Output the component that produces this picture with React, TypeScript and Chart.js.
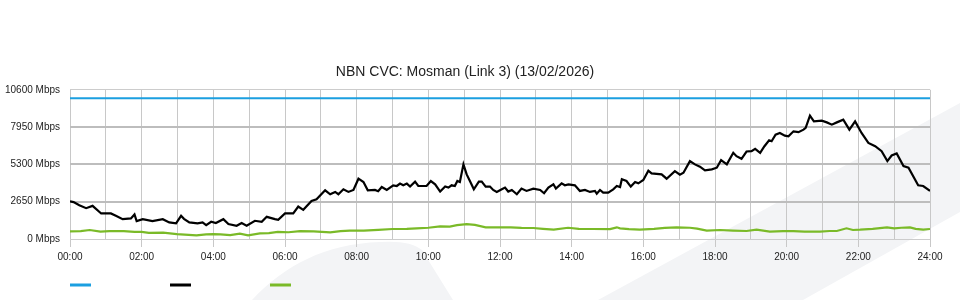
import { useEffect, useRef } from 'react';
import { Chart, registerables } from 'chart.js';

Chart.register(...registerables);

const TITLE = 'NBN CVC: Mosman (Link 3) (13/02/2026)';
const Y_TICKS = [0, 2650, 5300, 7950, 10600];
const X_LABEL_HOURS = [0, 2, 4, 6, 8, 10, 12, 14, 16, 18, 20, 22, 24];

// Capacity (blue)
const capacityHours = [0, 24];
const capacityMbps = [10000, 10000];

// Traffic in (black)
const inHours = [
  0, 0.1, 0.26, 0.45, 0.63, 0.87, 1.14, 1.28, 1.47, 1.7, 1.8, 1.86, 2.03, 2.3, 2.59, 2.77, 2.96, 3.1, 3.18,
  3.33, 3.56, 3.7, 3.8, 3.94, 4.07, 4.28, 4.42, 4.65, 4.79, 4.93, 5.16, 5.35, 5.49, 5.72, 5.81, 6.0, 6.23,
  6.37, 6.51, 6.74, 6.88, 7.12, 7.26, 7.4, 7.49, 7.63, 7.77, 7.91, 8.05, 8.19, 8.31, 8.51, 8.6, 8.7, 8.84,
  9.02, 9.12, 9.21, 9.3, 9.4, 9.49, 9.63, 9.72, 9.95, 10.07, 10.19, 10.33, 10.47, 10.56, 10.65, 10.74, 10.81,
  10.88, 10.98, 11.07, 11.16, 11.27, 11.41, 11.49, 11.6, 11.72, 11.81, 11.91, 12.05, 12.14, 12.23, 12.33,
  12.47, 12.6, 12.74, 12.93, 13.12, 13.23, 13.35, 13.49, 13.56, 13.72, 13.81, 13.91, 14.09, 14.23, 14.37,
  14.51, 14.65, 14.7, 14.79, 14.88, 15.02, 15.16, 15.26, 15.35, 15.4, 15.53, 15.65, 15.77, 15.86, 16.0,
  16.14, 16.23, 16.51, 16.65, 16.88, 17.02, 17.12, 17.3, 17.44, 17.58, 17.72, 17.91, 18.05, 18.17, 18.33,
  18.51, 18.6, 18.74, 18.88, 19.02, 19.12, 19.26, 19.38, 19.51, 19.58, 19.69, 19.81, 19.95, 20.05, 20.19,
  20.33, 20.47, 20.53, 20.65, 20.76, 20.98, 21.12, 21.26, 21.4, 21.58, 21.75, 21.91, 22.09, 22.28, 22.47,
  22.65, 22.81, 22.93, 23.07, 23.26, 23.4, 23.67, 23.81, 24,
];
const inMbps = [
  2670, 2620, 2400, 2190, 2355, 1815, 1815, 1645, 1410, 1460, 1745, 1270, 1410, 1270, 1410, 1175, 1110, 1645, 1430,
  1175, 1110, 1175, 990, 1225, 1130, 1410, 1060, 940, 1130, 940, 1295, 1225, 1575, 1410, 1365, 1815, 1815,
  2310, 2070, 2705, 2820, 3460, 3180, 3345, 3180, 3530, 3345, 3485, 4285, 4050, 3460, 3485, 3390, 3695, 3485,
  3815, 3765, 3935, 3815, 3935, 3725, 4075, 3765, 3765, 4120, 3885, 3370, 3725, 3650, 3815, 3765, 4120,
  4050, 5300, 4590, 4120, 3530, 4075, 4075, 3725, 3725, 3485, 3345, 3535, 3650, 3370, 3485,
  3180, 3580, 3415, 3580, 3485, 3250, 3650, 3885, 3580, 3955, 3815, 3885, 3815, 3415, 3485,
  3345, 3415, 3225, 3485, 3295, 3295, 3530, 3765, 3695, 4240, 4120, 3725, 4050, 3955, 4190,
  4850, 4660, 4590, 4285, 4825, 4570, 4710, 5535, 5300, 5135, 4875, 4945, 5065, 5605, 5300,
  6125, 5885, 5700, 6215, 6240, 6405, 6125, 6590, 7015, 6945, 7415, 7535, 7345, 7295, 7650,
  7590, 7770, 7890, 8760, 8355, 8405, 8285, 8125, 8285, 8475, 7770, 8355, 7535, 6830, 6590,
  6240, 5535, 5935, 6075, 5180, 5065, 3815, 3765, 3415,
];

// Traffic out (green)
const outHours = [
  0, 0.3, 0.55, 0.85, 1.1, 1.5, 1.8, 2.0, 2.2, 2.6, 2.98, 3.2, 3.53, 3.8, 4.0, 4.2, 4.47, 4.74, 4.97, 5.3,
  5.55, 5.8, 6.1, 6.42, 6.8, 7.26, 7.55, 7.81, 8.2, 8.6, 9.0, 9.4, 9.67, 10.0, 10.33, 10.6, 10.8, 11.07,
  11.3, 11.6, 12.0, 12.3, 12.6, 12.93, 13.2, 13.5, 13.9, 14.2, 14.6, 15.07, 15.26, 15.35, 15.6, 15.9, 16.3,
  16.6, 16.93, 17.3, 17.5, 17.77, 18.14, 18.5, 18.88, 19.16, 19.53, 19.9, 20.19, 20.5, 20.93, 21.2, 21.4,
  21.67, 21.85, 22.05, 22.4, 22.8, 23.0, 23.2, 23.44, 23.6, 23.81, 24,
];
const outMbps = [
  540, 560, 640, 520, 560, 560, 500, 510, 440, 450, 350, 310, 260, 330, 350, 330, 280, 380, 260, 400,
  420, 500, 480, 560, 540, 470, 560, 590, 600, 650, 710, 720, 760, 800, 900, 880, 980, 1060,
  1000, 830, 820, 830, 790, 780, 720, 660, 800, 720, 710, 700, 830, 760, 700, 660, 720,
  790, 830, 800, 740, 590, 640, 600, 570, 660, 520, 560, 560, 530, 520, 570, 570,
  760, 640, 660, 720, 830, 760, 800, 830, 720, 660, 710,
];

const COLORS = ['#1b9fe0', '#000000', '#7aba28'];
const FONT = "'Liberation Sans', Arial, Helvetica, sans-serif";

const pad2 = (n: number) => (n < 10 ? '0' + n : '' + n);

const watermark = {
  id: 'watermark',
  beforeDraw(chart: any) {
    const ctx = chart.ctx;
    ctx.save();
    ctx.fillStyle = '#f3f4f6';
    ctx.beginPath();
    ctx.moveTo(598, 300);
    ctx.lineTo(960, 103);
    ctx.lineTo(960, 212);
    ctx.lineTo(803, 300);
    ctx.closePath();
    ctx.fill();
    ctx.beginPath();
    ctx.moveTo(252, 300);
    ctx.bezierCurveTo(285, 265, 325, 244, 380, 242);
    ctx.quadraticCurveTo(410, 240, 422, 250);
    ctx.lineTo(453, 300);
    ctx.closePath();
    ctx.fill();
    ctx.restore();
  },
};

const lineLegend = {
  id: 'lineLegend',
  afterDraw(chart: any) {
    const ctx = chart.ctx;
    const left = chart.chartArea.left;
    ctx.save();
    chart.data.datasets.forEach((ds: any, i: number) => {
      ctx.strokeStyle = ds.borderColor;
      ctx.lineWidth = 3;
      ctx.beginPath();
      ctx.moveTo(left + i * 100, 285);
      ctx.lineTo(left + i * 100 + 21, 285);
      ctx.stroke();
    });
    ctx.restore();
  },
};

export default function App() {
  const ref = useRef<HTMLCanvasElement>(null);

  useEffect(() => {
    if (!ref.current) return;
    const toPts = (xs: number[], ys: number[]) => xs.map((x, i) => ({ x, y: ys[i] }));
    const chart = new Chart(ref.current, {
      type: 'line',
      data: {
        datasets: [
          { label: 'Capacity', data: toPts(capacityHours, capacityMbps), borderColor: COLORS[0], borderWidth: 2, pointRadius: 0, tension: 0 },
          { label: 'In', data: toPts(inHours, inMbps), borderColor: COLORS[1], borderWidth: 2.2, pointRadius: 0, tension: 0 },
          { label: 'Out', data: toPts(outHours, outMbps), borderColor: COLORS[2], borderWidth: 2.2, pointRadius: 0, tension: 0 },
        ],
      },
      options: {
        animation: false,
        responsive: true,
        maintainAspectRatio: false,
        layout: { padding: { top: 52, right: 30, bottom: 33, left: 0 } },
        plugins: {
          legend: { display: false },
          tooltip: { enabled: false },
          title: {
            display: true,
            text: TITLE,
            color: '#222',
            font: { family: FONT, size: 14, weight: 'normal' },
            padding: { top: 12, bottom: 9 },
          },
        },
        scales: {
          x: {
            type: 'linear',
            min: 0,
            max: 24,
            border: { display: false },
            afterBuildTicks: (scale: any) => {
              const t = [];
              for (let h = 0; h <= 24; h++) t.push({ value: h });
              scale.ticks = t;
            },
            ticks: {
              autoSkip: false,
              maxRotation: 0,
              padding: 4,
              color: '#222',
              font: { family: FONT, size: 10 },
              callback: (v: any) => (X_LABEL_HOURS.includes(Number(v)) ? pad2(Number(v)) + ':00' : ''),
            },
            grid: {
              color: '#c8c8c8',
              lineWidth: 1,
              tickLength: 8,
              tickColor: (c: any) => (c.tick && X_LABEL_HOURS.includes(c.tick.value) ? '#c8c8c8' : 'rgba(0,0,0,0)'),
            },
          },
          y: {
            min: 0,
            max: 10600,
            border: { display: false },
            afterBuildTicks: (scale: any) => {
              scale.ticks = Y_TICKS.map((v) => ({ value: v }));
            },
            afterFit: (scale: any) => {
              scale.width = 70;
            },
            ticks: {
              padding: 10,
              color: '#222',
              font: { family: FONT, size: 10 },
              callback: (v: any) => v + ' Mbps',
            },
            grid: {
              drawTicks: false,
              color: (c: any) => (c.tick && (c.tick.value === 0 || c.tick.value === 10600) ? '#cccccc' : '#bdbdbd'),
              lineWidth: (c: any) => (c.tick && (c.tick.value === 0 || c.tick.value === 10600) ? 1 : 2),
            },
          },
        },
      },
      plugins: [watermark, lineLegend],
    });
    return () => chart.destroy();
  }, []);

  return (
    <div style={{ position: 'fixed', left: 0, top: 0, width: 960, height: 300 }}>
      <canvas ref={ref} />
    </div>
  );
}
